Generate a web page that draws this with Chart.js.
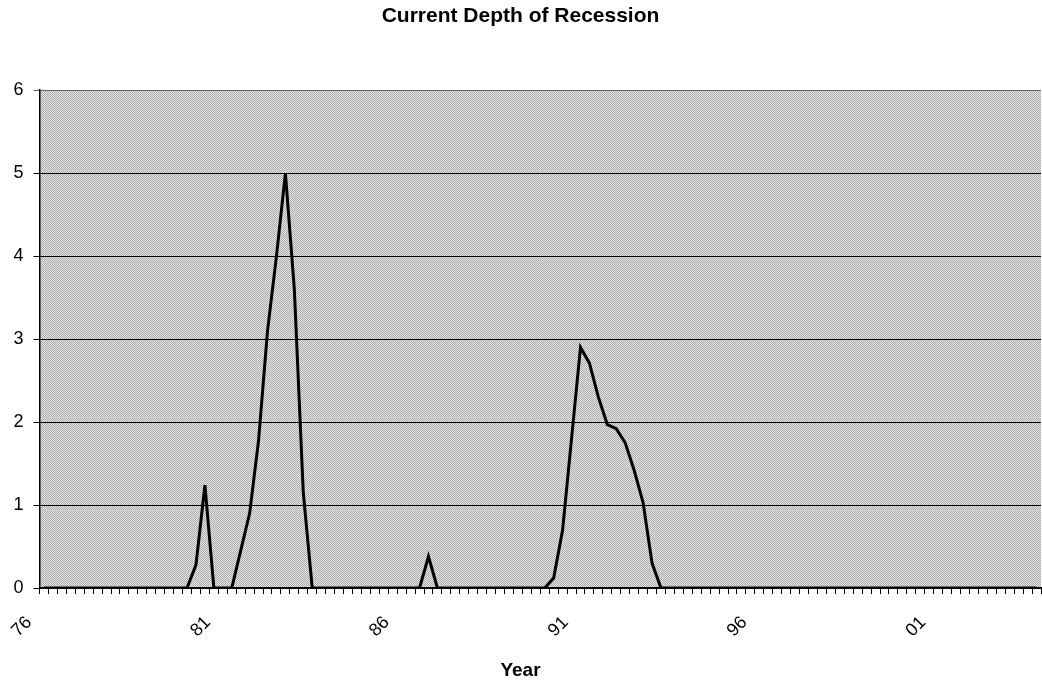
<!DOCTYPE html>
<html>
<head>
<meta charset="utf-8">
<script src="https://cdn.jsdelivr.net/npm/chart.js@4"></script>
<style>
  html, body { margin: 0; padding: 0; background: #fff; }
  #wrap { width: 1042px; height: 682px; }
</style>
</head>
<body>
<div id="wrap"><canvas id="chart" width="1042" height="682"></canvas></div>
<script>
/* Current Depth of Recession: quarterly line, 1976Q1 - 2003Q4 */

const YEARS = ['76', '77', '78', '79', '80', '81', '82', '83', '84', '85', '86', '87', '88', '89',
  '90', '91', '92', '93', '94', '95', '96', '97', '98', '99', '00', '01', '02', '03'];
const TICK_LABELS = ['76', '81', '86', '91', '96', '01'];

// one row per year, four quarters each
const DEPTH = [
  0, 0, 0, 0,          // 76
  0, 0, 0, 0,          // 77
  0, 0, 0, 0,          // 78
  0, 0, 0, 0,          // 79
  0, 0.28, 1.24, 0,    // 80
  0, 0, 0.45, 0.9,     // 81
  1.78, 3.1, 4.0, 5.0, // 82
  3.6, 1.15, 0, 0,     // 83
  0, 0, 0, 0,          // 84
  0, 0, 0, 0,          // 85
  0, 0, 0, 0.38,       // 86
  0, 0, 0, 0,          // 87
  0, 0, 0, 0,          // 88
  0, 0, 0, 0,          // 89
  0, 0.12, 0.7, 1.8,   // 90
  2.9, 2.71, 2.3, 1.97,// 91
  1.92, 1.75, 1.42, 1.03, // 92
  0.3, 0, 0, 0,        // 93
  0, 0, 0, 0,          // 94
  0, 0, 0, 0,          // 95
  0, 0, 0, 0,          // 96
  0, 0, 0, 0,          // 97
  0, 0, 0, 0,          // 98
  0, 0, 0, 0,          // 99
  0, 0, 0, 0,          // 00
  0, 0, 0, 0,          // 01
  0, 0, 0, 0,          // 02
  0, 0, 0, 0,          // 03
];

const QUARTERS = [];
YEARS.forEach((y) => { for (let q = 1; q <= 4; q++) QUARTERS.push(y + 'Q' + q); });

const FONT = 'Arial, "Liberation Sans", sans-serif';

// halftone-ish grey fill for the plot area
function makePattern(ctx) {
  const c = document.createElement('canvas');
  c.width = 2; c.height = 2;
  const p = c.getContext('2d');
  p.fillStyle = '#e4e4e4'; p.fillRect(0, 0, 2, 2);
  p.fillStyle = '#acacac'; p.fillRect(0, 0, 1, 1); p.fillRect(1, 1, 1, 1);
  return ctx.createPattern(c, 'repeat');
}

const plotBg = {
  id: 'plotBg',
  beforeDraw(chart) {
    const { ctx, chartArea: a } = chart;
    ctx.save();
    ctx.fillStyle = makePattern(ctx);
    ctx.fillRect(a.left, a.top, a.right - a.left, a.bottom - a.top);
    ctx.restore();
  },
};

new Chart(document.getElementById('chart'), {
  type: 'line',
  data: {
    labels: QUARTERS,
    datasets: [{
      data: DEPTH,
      borderColor: '#000',
      borderWidth: 3,
      pointRadius: 0,
      tension: 0,
      fill: false,
    }],
  },
  plugins: [plotBg],
  options: {
    responsive: false,
    animation: false,
    layout: { padding: { left: 0, right: 1, top: 0, bottom: 0 } },
    plugins: {
      legend: { display: false },
      tooltip: { enabled: false },
      title: {
        display: true,
        text: 'Current Depth of Recession',
        color: '#000',
        font: { family: FONT, size: 21, weight: 'bold' },
        padding: { top: 4, bottom: 61 },
      },
      // axis title sits centred on the whole chart, like the original
      subtitle: {
        display: true,
        position: 'bottom',
        text: 'Year',
        color: '#000',
        font: { family: FONT, size: 19, weight: 'bold' },
        padding: { top: 0, bottom: 0 },
      },
    },
    scales: {
      x: {
        offset: true,
        grid: { display: true, drawOnChartArea: false, drawTicks: true, tickLength: 6, offset: true, color: '#000' },
        border: { display: true, color: '#000', width: 2 },
        ticks: {
          autoSkip: false,
          minRotation: 45,
          maxRotation: 45,
          padding: 18,
          labelOffset: -15,
          color: '#000',
          font: { family: FONT, size: 18 },
          callback: (v, i) => (i % 20 === 0 ? TICK_LABELS[i / 20] : ''),
        },
        afterFit: (s) => { s.height = 71.2; s.paddingLeft = 0; s.paddingRight = 0; },
      },
      y: {
        min: 0,
        max: 6,
        ticks: { stepSize: 1, padding: 10, color: '#000', font: { family: FONT, size: 18 } },
        grid: {
          color: (c) => (c.tick && c.tick.value === 6 ? '#666' : '#000'),
          lineWidth: 1,
          tickLength: 6,
        },
        border: { display: true, color: '#000', width: 1.5 },
        afterFit: (s) => { s.width = 39.5; s.paddingTop = 0; s.paddingBottom = 0; },
      },
    },
  },
});
</script>
</body>
</html>
